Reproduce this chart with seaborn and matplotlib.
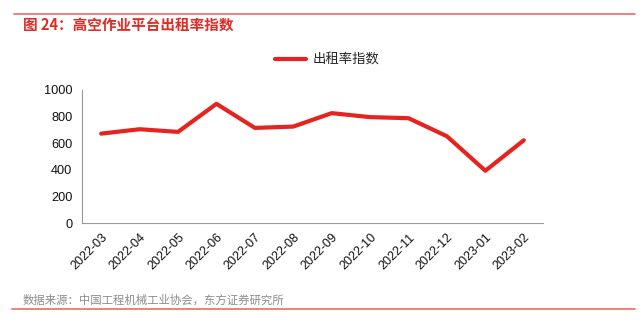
import numpy as np
import pandas as pd
import matplotlib
matplotlib.use("Agg")
import matplotlib.pyplot as plt
import seaborn as sns
from matplotlib.lines import Line2D

months = ["2022-03", "2022-04", "2022-05", "2022-06", "2022-07", "2022-08",
          "2022-09", "2022-10", "2022-11", "2022-12", "2023-01", "2023-02"]
rental_index = [672, 705, 685, 896, 715, 725, 826, 796, 788, 652, 393, 622]
y_ticks = [0, 200, 400, 600, 800, 1000]

series_name = "出租率指数"
title_text = "图 24：高空作业平台出租率指数"
source_text = "数据来源：中国工程机械工业协会，东方证券研究所"

sns.set_theme(style="white")
plt.rcParams["font.family"] = ["Liberation Sans", "Noto Sans CJK SC", "DejaVu Sans"]

df = pd.DataFrame({"month": months, "value": rental_index})

fig = plt.figure(figsize=(6.44, 3.27), dpi=100)
ax = fig.add_axes([82 / 644, 1 - 223 / 327, (543 - 82) / 644, (223 - 90) / 327])

red = "#E52420"
sns.lineplot(data=df, x="month", y="value", ax=ax, color=red, linewidth=3.0,
             sort=False, legend=False)

n = len(months)
ax.set_xlim(-0.5, n - 0.5)
ax.set_ylim(0, 1000)
ax.set_yticks(y_ticks)
ax.set_yticklabels([str(v) for v in y_ticks], fontsize=9.2, color="#111111")
ax.set_xticks(np.arange(n))
ax.set_xticklabels(months, rotation=45, ha="right", rotation_mode="anchor",
                   fontsize=9, color="#111111")
ax.set_xticks(np.arange(n + 1) - 0.5, minor=True)
ax.tick_params(axis="x", which="major", length=0, pad=6)
ax.tick_params(axis="x", which="minor", direction="in", length=4,
               color="#999999", width=0.8)
ax.tick_params(axis="y", which="major", direction="in", length=3,
               color="#999999", width=0.8, pad=7)
ax.set_xlabel("")
ax.set_ylabel("")

for side in ("top", "right"):
    ax.spines[side].set_visible(False)
for side in ("left", "bottom"):
    ax.spines[side].set_color("#999999")
    ax.spines[side].set_linewidth(0.8)

handle = Line2D([0], [0], color=red, linewidth=3.0)
fig.legend([handle], [series_name], loc="center", bbox_to_anchor=(327 / 644, 1 - 60 / 327),
           frameon=False, handlelength=2.3, handletextpad=0.5,
           prop={"family": ["Noto Sans CJK SC", "DejaVu Sans"], "size": 9.6})

# header and footer rules
fig.add_artist(Line2D([14 / 644, 635 / 644], [1 - 14 / 327, 1 - 14 / 327],
                      color="#EF6A62", linewidth=1.2))
fig.add_artist(Line2D([12 / 644, 635 / 644], [1 - 309 / 327, 1 - 309 / 327],
                      color="#EF6A62", linewidth=1.2))

fig.text(23 / 644, 1 - 25 / 327, title_text, color="#E02A24", fontsize=10.5,
         fontweight="bold", va="center", ha="left",
         family=["Noto Sans CJK SC", "DejaVu Sans"])
fig.text(23 / 644, 1 - 300 / 327, source_text, color="#8C8C8C", fontsize=8.2,
         va="center", ha="left", family=["Noto Sans CJK SC", "DejaVu Sans"])

fig.savefig("out.png", dpi=100, facecolor="white")
